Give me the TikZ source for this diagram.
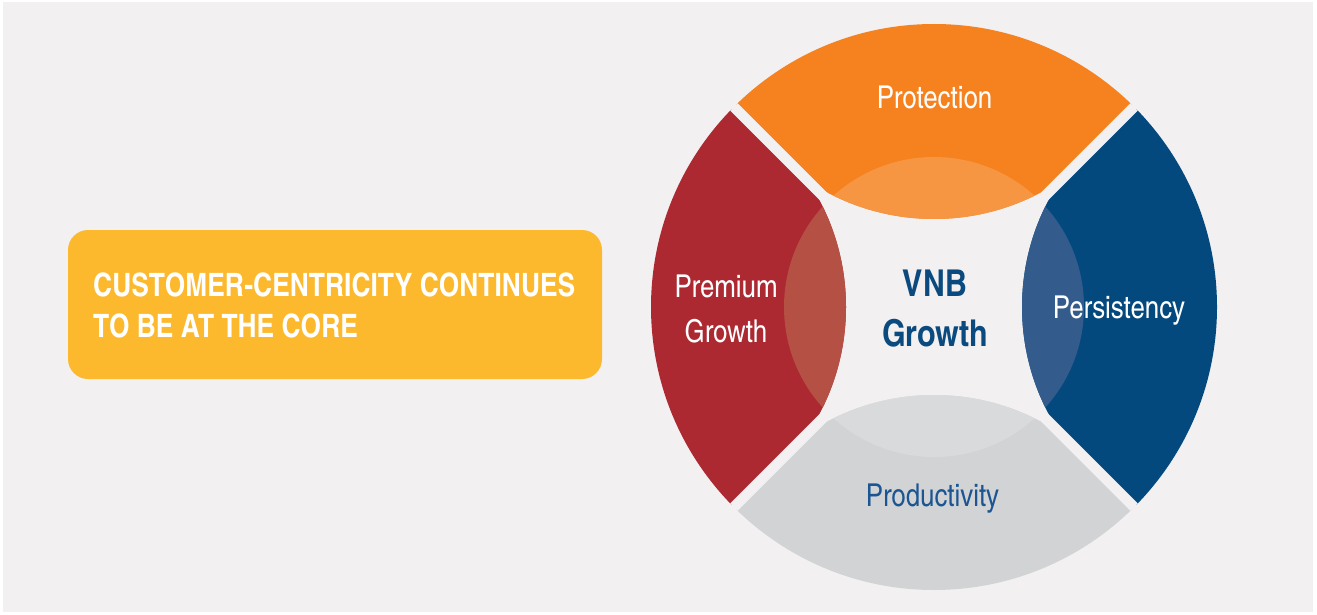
\documentclass[tikz,border=0pt]{standalone}
\usepackage{fontspec}
\newfontfamily\cnfont{texgyreheroscn}[Extension=.otf,UprightFont=*-regular,BoldFont=*-bold]
\definecolor{bg}{HTML}{F2F0F1}
\definecolor{orng}{HTML}{F5821F}
\definecolor{orngl}{HTML}{F69642}
\definecolor{redd}{HTML}{AC2932}
\definecolor{reddl}{HTML}{B55044}
\definecolor{blu}{HTML}{03497E}
\definecolor{blul}{HTML}{335C8C}
\definecolor{gry}{HTML}{D2D3D5}
\definecolor{gryl}{HTML}{D9DADC}
\definecolor{yel}{HTML}{FDB92E}
\definecolor{txtblue}{HTML}{0B4A7E}
\definecolor{prodblue}{HTML}{1B5592}
\begin{document}
\begin{tikzpicture}[x=1pt,y=-1pt,
  lbl/.style={inner sep=0pt,anchor=base,font=\cnfont\fontsize{31.5}{37}\selectfont},
  vnb/.style={inner sep=0pt,anchor=base,text=txtblue,font=\cnfont\bfseries\fontsize{37}{44}\selectfont},
  boxtxt/.style={inner sep=0pt,anchor=base west,text=white,font=\cnfont\bfseries\fontsize{32.2}{38}\selectfont},
  gap/.style={draw=bg,line width=10.5pt}]
\useasboundingbox (0,0) rectangle (1317,615);
\fill[white] (0,0) rectangle (1317,615);
\fill[bg] (3,2) rectangle (1313,612);
\fill[yel, rounded corners=20pt] (68,230) rectangle (602,379);
\coordinate (c) at (934,307);
\coordinate (ct) at (934,-9);
\coordinate (cl) at (618,307);
\coordinate (cr) at (1250,307);
\coordinate (cb) at (934,623);
\begin{scope}
  \clip (c) circle (283);
  \fill[orng] (ct) circle (228);
  \fill[redd] (cl) circle (228);
  \fill[blu] (cr) circle (228);
  \fill[gry] (cb) circle (228);
  \begin{scope}
    \clip (c) circle (150);
    \fill[orngl] (ct) circle (228);
    \fill[reddl] (cl) circle (228);
    \fill[blul] (cr) circle (228);
    \fill[gryl] (cb) circle (228);
  \end{scope}
  \path[gap] (c) ++(-300,-300) -- ++(600,600);
  \path[gap] (c) ++(300,-300) -- ++(-600,600);
\end{scope}
\node[lbl,text=white] (prot) at (934.5,108.3) {Protection};
\node[lbl,text=white] (prem1) at (726,297) {Premium};
\node[lbl,text=white] (prem2) at (726,342) {Growth};
\node[lbl,text=white] (pers) at (1119,318) {Persistency};
\node[lbl,text=prodblue] (prod) at (932.5,506.7) {Productivity};
\node[vnb] (vnb1) at (935,296.7) {VNB};
\node[vnb] (vnb2) at (935,346) {Growth};
\node[boxtxt] (box1) at (93,296.7) {CUSTOMER-CENTRICITY CONTINUES};
\node[boxtxt] (box2) at (93,337.7) {TO BE AT THE CORE};
\end{tikzpicture}
\end{document}
